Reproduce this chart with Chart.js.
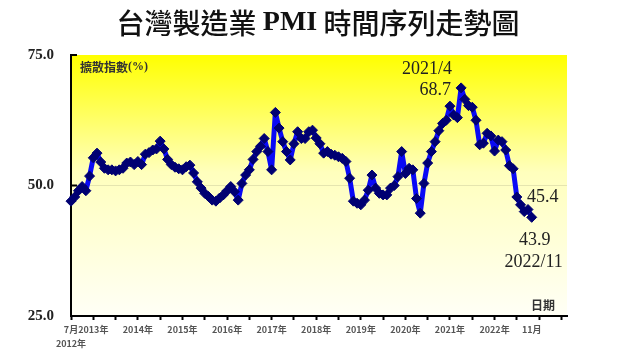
<!DOCTYPE html>
<html>
<head>
<meta charset="utf-8">
<script src="https://cdn.jsdelivr.net/npm/chart.js@4.4.1/dist/chart.umd.min.js"></script>
<style>
  html, body { margin: 0; padding: 0; background: #fff; }
  #wrap { width: 640px; height: 360px; }
</style>
</head>
<body>
<div id="wrap"><canvas id="pmiChart" width="640" height="360"></canvas></div>
<script>
// monthly PMI values (2012 starts in July, 2022 ends in November)
const pmi2012 = [47.0, 47.8, 49.0, 49.8, 49.0, 51.8];
const pmi2013 = [55.3, 56.2, 54.5, 53.3, 53.0, 53.0, 52.8, 53.0, 53.3, 54.3, 54.5, 54.0];
const pmi2014 = [54.6, 54.0, 56.0, 56.3, 56.8, 57.0, 58.5, 57.0, 55.0, 54.0, 53.5, 53.2];
const pmi2015 = [53.0, 53.6, 53.9, 52.4, 50.7, 49.5, 48.5, 47.9, 47.2, 47.0, 47.6, 48.2];
const pmi2016 = [49.0, 49.8, 48.8, 47.2, 50.4, 52.0, 53.0, 55.0, 56.5, 57.5, 59.0, 56.5];
const pmi2017 = [53.0, 64.0, 61.0, 58.4, 56.5, 54.9, 58.0, 60.3, 59.0, 59.0, 60.3, 60.6];
const pmi2018 = [59.1, 58.0, 56.2, 56.5, 56.0, 55.8, 55.5, 55.2, 54.6, 51.4, 47.0, 46.6];
const pmi2019 = [46.3, 47.2, 49.1, 52.0, 49.5, 48.5, 48.2, 48.2, 49.5, 50.0, 51.7, 56.5];
const pmi2020 = [52.3, 53.3, 53.0, 47.5, 44.7, 50.4, 54.3, 56.5, 58.4, 60.5, 61.9, 62.5];
const pmi2021 = [65.2, 63.5, 63.0, 68.7, 66.5, 65.3, 65.0, 62.5, 57.8, 58.1, 60.0, 59.5];
const pmi2022 = [56.6, 58.7, 58.4, 56.8, 53.8, 53.2, 47.8, 46.3, 45.0, 45.4, 43.9];

// x tick labels
const startLabel = ['7月', '2012年'];
const yearLabels = ['2013年', '2014年', '2015年', '2016年', '2017年', '2018年', '2019年', '2020年', '2021年', '2022年'];
const endLabel = '11月';
const yTicks = [25, 50, 75];

// callouts on the line
const peakDate = '2021/4';
const lastDate = '2022/11';

const pmiValues = [].concat(pmi2012, pmi2013, pmi2014, pmi2015, pmi2016, pmi2017,
    pmi2018, pmi2019, pmi2020, pmi2021, pmi2022);
const lastIndex = pmiValues.length - 1;
const peakIndex = pmiValues.indexOf(Math.max(...pmiValues));
const points = pmiValues.map((v, i) => ({ x: i, y: v }));

// tick every half year from July 2012
const tickMonths = [];
for (let m = 0; m <= 132; m += 6) tickMonths.push(m);

const CJK = "'Noto Sans CJK TC', 'Noto Sans CJK SC', sans-serif";
const SERIF = "'Liberation Serif', 'DejaVu Serif', serif";

// yellow fade behind the plot
const backdrop = {
    id: 'backdrop',
    beforeDraw(chart) {
        const { ctx, chartArea: a } = chart;
        const g = ctx.createLinearGradient(0, a.top, 0, a.bottom);
        g.addColorStop(0, '#ffff00');
        g.addColorStop(0.45, '#ffffbd');
        g.addColorStop(1, '#fffff6');
        ctx.save();
        ctx.fillStyle = g;
        ctx.fillRect(a.left, a.top, a.right - a.left, a.bottom - a.top);
        ctx.restore();
    }
};

// title, axis captions, inward y ticks, value callouts
const extras = {
    id: 'extras',
    afterDraw(chart) {
        const { ctx, chartArea: a, scales: { x, y } } = chart;
        ctx.save();

        // title with mixed fonts
        const runs = [
            { t: '台灣製造業 ', f: `500 28px ${CJK}` },
            { t: 'PMI', f: `bold 28px ${SERIF}` },
            { t: ' 時間序列走勢圖', f: `500 28px ${CJK}` }
        ];
        let total = 0;
        runs.forEach(r => { ctx.font = r.f; r.w = ctx.measureText(r.t).width; total += r.w; });
        let cx = 318 - total / 2;
        ctx.fillStyle = '#111';
        ctx.textBaseline = 'middle';
        ctx.textAlign = 'left';
        runs.forEach(r => { ctx.font = r.f; ctx.fillText(r.t, cx, 23); cx += r.w; });

        // inward ticks on the y axis
        ctx.strokeStyle = '#000';
        ctx.lineWidth = 2;
        yTicks.slice(1).forEach(v => {
            const py = y.getPixelForValue(v);
            ctx.beginPath();
            ctx.moveTo(a.left, py);
            ctx.lineTo(a.left + 6, py);
            ctx.stroke();
        });

        // axis captions
        ctx.fillStyle = '#333';
        ctx.font = `bold 12px ${CJK}`;
        ctx.fillText('擴散指數', a.left + 9, a.top + 12);
        const w1 = ctx.measureText('擴散指數').width;
        ctx.font = `bold 12px ${SERIF}`;
        ctx.fillText('(%)', a.left + 9 + w1, a.top + 12);
        ctx.font = `bold 12px ${CJK}`;
        ctx.textAlign = 'right';
        ctx.fillText('日期', a.right - 12, a.bottom - 11);

        // callouts
        ctx.fillStyle = '#222';
        ctx.font = `18px ${SERIF}`;
        const px = x.getPixelForValue(peakIndex);
        const py = y.getPixelForValue(pmiValues[peakIndex]);
        ctx.textAlign = 'right';
        ctx.fillText(peakDate, px - 9, py - 19);
        ctx.fillText(pmiValues[peakIndex].toFixed(1), px - 10, py + 2);

        const prev = lastIndex - 1;
        ctx.textAlign = 'left';
        ctx.fillText(pmiValues[prev].toFixed(1), x.getPixelForValue(prev) - 1, y.getPixelForValue(pmiValues[prev]) - 12);

        const lx = x.getPixelForValue(lastIndex);
        const ly = y.getPixelForValue(pmiValues[lastIndex]);
        ctx.textAlign = 'center';
        ctx.fillText(pmiValues[lastIndex].toFixed(1), lx + 3, ly + 23);
        ctx.fillText(lastDate, lx + 2, ly + 45);

        ctx.restore();
    }
};

new Chart(document.getElementById('pmiChart'), {
    type: 'line',
    data: {
        datasets: [{
            label: 'PMI',
            data: points,
            borderColor: '#0a0af5',
            borderWidth: 5,
            borderJoinStyle: 'round',
            tension: 0,
            pointStyle: 'rectRot',
            pointRadius: 5,
            pointBackgroundColor: '#000072',
            pointBorderColor: '#000072',
            pointBorderWidth: 1,
            clip: 8
        }]
    },
    options: {
        responsive: false,
        animation: false,
        events: [],
        layout: { padding: { top: 55, right: 73, bottom: 0, left: 0 } },
        plugins: {
            legend: { display: false },
            tooltip: { enabled: false }
        },
        scales: {
            x: {
                type: 'linear',
                min: 0,
                max: 133.5,
                afterBuildTicks(axis) {
                    axis.ticks = tickMonths.concat([lastIndex])
                        .sort((p, q) => p - q)
                        .map(v => ({ value: v }));
                },
                afterFit(axis) { axis.height = 44; },
                border: { color: '#000', width: 2 },
                grid: {
                    drawOnChartArea: false,
                    tickLength: 4,
                    tickWidth: 2,
                    tickColor: ctx => (ctx.tick && ctx.tick.value === lastIndex) ? 'rgba(0,0,0,0)' : '#000'
                },
                ticks: {
                    autoSkip: false,
                    maxRotation: 0,
                    padding: 2,
                    color: '#555',
                    font: { family: CJK, size: 9, weight: 'bold', lineHeight: 1.6 },
                    callback(value) {
                        if (value === 0) return startLabel;
                        if (value === lastIndex) return endLabel;
                        if ((value - 6) % 12 === 0) return yearLabels[(value - 6) / 12] || '';
                        return '';
                    }
                }
            },
            y: {
                min: 25,
                max: 75,
                afterBuildTicks(axis) {
                    axis.ticks = yTicks.map(v => ({ value: v }));
                },
                afterFit(axis) { axis.width = 71; },
                border: { color: '#000', width: 2 },
                grid: {
                    drawTicks: false,
                    color: ctx => (ctx.tick && ctx.tick.value === 50) ? 'rgba(150,150,120,0.25)' : 'rgba(0,0,0,0)'
                },
                ticks: {
                    padding: 17,
                    color: '#222',
                    font: { family: SERIF, size: 15, weight: 'bold' },
                    callback: v => v.toFixed(1)
                }
            }
        }
    },
    plugins: [backdrop, extras]
});
</script>
</body>
</html>
